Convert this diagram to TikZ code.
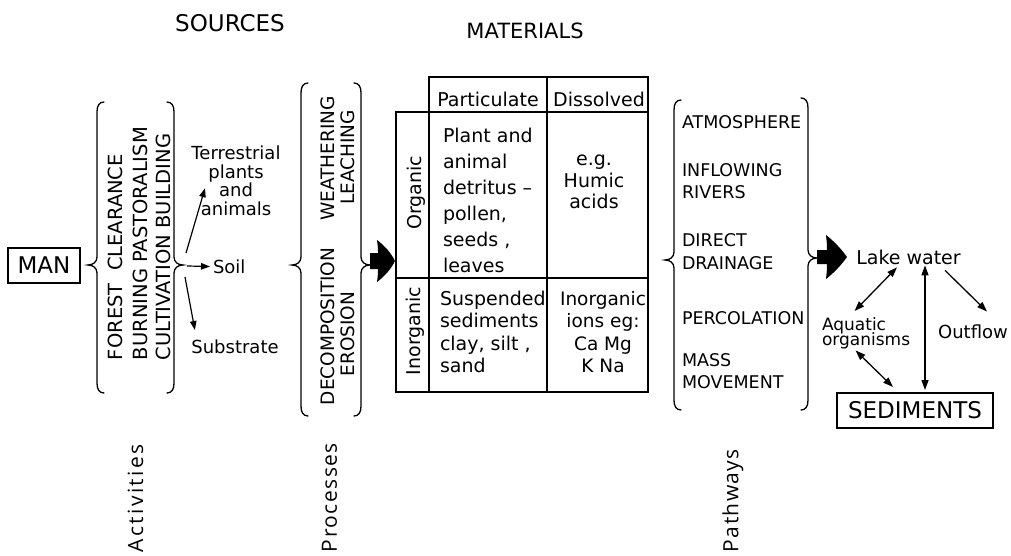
\documentclass[tikz,border=0pt]{standalone}
\usepackage{fontspec}
\setmainfont{DejaVu Sans}
\newfontfamily\labA[LetterSpace=11]{Open Sans}
\newfontfamily\labB[LetterSpace=7]{Open Sans}
\newfontfamily\labC[LetterSpace=6.5]{Open Sans}
\usetikzlibrary{arrows.meta,calc}
\newcommand\bracL[4]{\draw[brc] ({#1+16},{#2}) .. controls ({#1+11},{#2}) and ({#1+9},{#2+4}) .. ({#1+9},{#2+10}) -- ({#1+9},{#3-8}) .. controls ({#1+9},{#3-3}) and ({#1+5},{#3}) .. (#1,#3) .. controls ({#1+5},{#3}) and ({#1+9},{#3+3}) .. ({#1+9},{#3+8}) -- ({#1+9},{#4-10}) .. controls ({#1+9},{#4-4}) and ({#1+11},{#4}) .. ({#1+16},{#4});}
\newcommand\bracR[4]{\draw[brc] ({#1-16},{#2}) .. controls ({#1-11},{#2}) and ({#1-9},{#2+4}) .. ({#1-9},{#2+10}) -- ({#1-9},{#3-8}) .. controls ({#1-9},{#3-3}) and ({#1-5},{#3}) .. (#1,#3) .. controls ({#1-5},{#3}) and ({#1-9},{#3+3}) .. ({#1-9},{#3+8}) -- ({#1-9},{#4-10}) .. controls ({#1-9},{#4-4}) and ({#1-11},{#4}) .. ({#1-16},{#4});}
\begin{document}
\begin{tikzpicture}[x=1pt,y=-1pt,
  every node/.style={inner sep=0pt, outer sep=0pt},
  brc/.style={line width=1.3pt, line cap=round},
  hd/.style={font=\fontsize{23}{26}\selectfont},
  box/.style={draw, line width=2.4pt, font=\fontsize{23}{26}\selectfont},
  vt/.style={rotate=90, anchor=west, font=\fontsize{19.5}{22}\selectfont},
  pv/.style={rotate=90, font=\fontsize{18.5}{22}\selectfont},
  lab/.style={font=\fontsize{18}{18.5}\selectfont},
  cell/.style={font=\fontsize{19}{26}\selectfont},
  pw/.style={font=\fontsize{17.5}{22.5}\selectfont, align=left, anchor=west},
  tbl/.style={line width=1.5pt},
  sar/.style={line width=1.2pt, -{Triangle[length=9pt,width=6.5pt]}},
  dar/.style={line width=1.3pt, {Triangle[length=10pt,width=7pt]}-{Triangle[length=10pt,width=7pt]}},
  oar/.style={line width=1.3pt, -{Triangle[length=10pt,width=7pt]}},
  bot/.style={rotate=90, anchor=west}
]
\lineskiplimit=-100pt
\useasboundingbox (0,0) rectangle (1011,556);

% headings
\node[hd] (src) at (230,23.5) {SOURCES};
\node[hd, font=\fontsize{21}{26}\selectfont] (mat) at (525,31) {MATERIALS};

% MAN
\node[box, minimum width=72pt, minimum height=35pt] (man) at (44,265.5) {MAN};

% activities
\bracL{88}{102}{265}{393}
\node[vt] (a1) at (115,360) {FOREST\ \ CLEARANCE};
\node[vt] (a2) at (140,360) {BURNING PASTORALISM};
\node[vt] (a3) at (163,360) {CULTIVATION BUILDING};
\bracR{183}{102}{265}{393}
\coordinate (actR) at (183,266);

% sources
\node[lab, align=center, anchor=north] (terr) at (236,146) {Terrestrial\\plants\\and\\animals};
\node[lab, anchor=west] (soil) at (213,266.5) {Soil};
\node[lab] (subs) at (235,347) {Substrate};
\draw[sar] ([xshift=3pt,yshift=13pt]actR) -- ([xshift=13.5pt,yshift=-7.5pt]terr.west);
\draw[sar] ([xshift=4pt]actR) -- ([xshift=-3pt]soil.west);
\draw[sar] ([xshift=2pt,yshift=-11pt]actR) -- ([xshift=3.5pt,yshift=10pt]subs.north west);

% processes
\bracL{292}{83}{265}{416}
\node[pv] (p1) at (328,158.5) {WEATHERING};
\node[pv] (p2) at (348,157.5) {LEACHING};
\node[pv] (p3) at (328,326.5) {DECOMPOSITION};
\node[pv] (p4) at (348,334) {EROSION};
\bracR{370}{83}{265}{416}

% big arrow 1
\fill (370,253) -- (378,253) .. controls (378,248) .. (377,240) .. controls (385,246) and (391,253) .. (395,261) .. controls (391,269) and (385,276) .. (377,282) .. controls (378,274) .. (378,269) -- (370,269) -- cycle;

% table
\draw[tbl] (429,77) rectangle (648,392);
\draw[tbl] (396,112) rectangle (648,392);
\draw[tbl] (547,77) -- (547,392);
\draw[tbl] (396,278) -- (648,278);
\node[cell] (hp) at (488,99.5) {Particulate};
\node[cell] (hd) at (599,99.5) {Dissolved};
\node[cell, rotate=90] (org) at (416,193) {Organic};
\node[cell, rotate=90] (inorg) at (415,331) {Inorganic};
\node[cell, align=left, anchor=north west] (c11) at (443,128) {Plant and\\animal\\detritus --\\pollen,\\seeds ,\\leaves};
\node[cell, font=\fontsize{19}{21.5}\selectfont, align=center, anchor=north] (c12) at (594,155) {e.g.\\Humic\\acids};
\node[cell, font=\fontsize{19}{22.5}\selectfont, align=left, anchor=north west] (c21) at (440,291) {Suspended\\sediments\\clay, silt ,\\sand};
\node[cell, font=\fontsize{18.5}{22.5}\selectfont, align=center, anchor=north] (c22) at (603,291) {Inorganic\\ions eg:\\Ca Mg\\K Na};

% pathways
\bracL{665}{100}{260}{410}
\node[pw] (pw1) at (682,122) {ATMOSPHERE};
\node[pw] (pw2) at (682,181) {INFLOWING\\RIVERS};
\node[pw] (pw3) at (682,251.5) {DIRECT\\DRAINAGE};
\node[pw] (pw4) at (682,318) {PERCOLATION};
\node[pw] (pw5) at (682,371) {MASS\\MOVEMENT};
\bracR{817}{98}{258}{410}

% big arrow 2
\fill (817,250) -- (827,250) .. controls (827,245) .. (826,235) .. controls (835,242) and (842,250) .. (847,257) .. controls (842,264) and (835,272) .. (826,279) .. controls (827,269) .. (827,264) -- (817,264) -- cycle;

% lake system
\node[font=\fontsize{19}{22}\selectfont] (lake) at (908.5,257) {Lake water};
\node[font=\fontsize{17}{15}\selectfont, align=left, anchor=north west] (aq) at (822,318) {Aquatic\\organisms};
\node[font=\fontsize{18}{22}\selectfont] (out) at (973,331.5) {Outflow};
\node[box, line width=2pt, minimum width=156pt, minimum height=35pt] (sed) at (915,410.5) {SEDIMENTS};
\draw[dar] ([xshift=-11.5pt,yshift=-3pt]lake.south) -- ([xshift=-11.5pt,yshift=7pt]aq.north);
\draw[dar] ([xshift=16.5pt,yshift=-1pt]lake.south) -- ([xshift=10pt,yshift=3pt]sed.north);
\draw[oar] ([xshift=36.5pt,yshift=-6pt]lake.south) -- ([xshift=14pt,yshift=13pt]out.north);
\draw[dar] ([xshift=-10.5pt,yshift=-1pt]aq.south) -- ([xshift=-22pt,yshift=6pt]sed.north);

% bottom labels
\node[bot, font=\labA\fontsize{21}{24}\selectfont] (lact) at (135.5,552) {Activities};
\node[bot, font=\labB\fontsize{21}{24}\selectfont] (lproc) at (329.5,552) {Processes};
\node[bot, font=\labC\fontsize{21}{24}\selectfont] (lpath) at (733,552) {Pathways};
\end{tikzpicture}
\end{document}
